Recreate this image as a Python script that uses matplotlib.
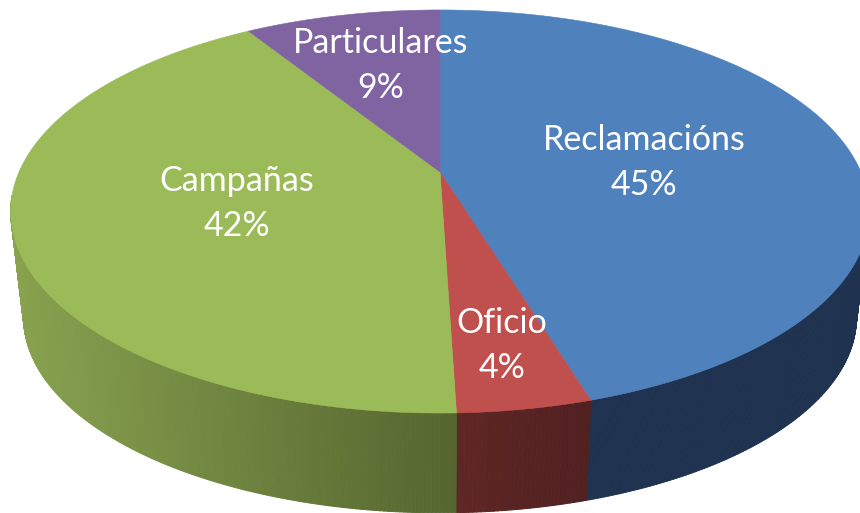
import numpy as np
import matplotlib
matplotlib.use("Agg")
import matplotlib.pyplot as plt
from matplotlib.collections import PolyCollection
from matplotlib.colors import to_rgb

categories = ["Reclamacións", "Oficio", "Campañas", "Particulares"]
shares = [45.3, 4.2, 41.6, 8.9]
top_colors = ["#4f81bd", "#c0504d", "#9bbb59", "#8064a2"]
side_left = ["#1f3350", "#5e2725", "#88a24f", "#4c3c61"]
side_right = ["#1f3350", "#512020", "#55652f", "#4c3c61"]
label_xy = [(644, 140), (502, 323), (237, 181), (381, 43)]

# projected disc geometry, in pixels
CX, CY = 440.0, 172.0
AX_TOP, AY_TOP, KP = 421.0, 193.8, 0.196
BASE_SCALE, BASE_CY = 0.97, 279.0

plt.rcParams["font.family"] = ["Lato", "DejaVu Sans"]
fig = plt.figure(figsize=(8.6, 5.13), dpi=100, facecolor="white")
ax = fig.add_axes([0, 0, 1, 1])
ax.set_xlim(0, 860)
ax.set_ylim(513, 0)
ax.axis("off")


def project(t, cy=CY, s=1.0):
    u, v = np.sin(t), np.cos(t)
    d = 1 + KP * v
    return CX + s * AX_TOP * u / d, cy - s * AY_TOP * v / d


edges = np.deg2rad(np.concatenate([[0], np.cumsum(shares)]) * 3.6)

# side walls (front part only), then top faces
for i in range(len(shares)):
    t = np.linspace(edges[i], edges[i + 1], max(8, int(shares[i] * 8)))
    x0, y0 = project(t)
    x1, y1 = project(t, BASE_CY, BASE_SCALE)
    polys, cols = [], []
    xa, xb = x0.min(), x0.max()
    c0, c1 = np.array(to_rgb(side_left[i])), np.array(to_rgb(side_right[i]))
    for j in range(len(t) - 1):
        if np.cos(t[j]) > -0.12:
            continue
        polys.append([(x0[j], y0[j]), (x0[j + 1], y0[j + 1]),
                      (x1[j + 1], y1[j + 1]), (x1[j], y1[j])])
        f = ((x0[j] + x0[j + 1]) / 2 - xa) / (xb - xa)
        cols.append(c0 + (c1 - c0) * f)
    if polys:
        ax.add_collection(PolyCollection(polys, facecolors=cols, edgecolors=cols,
                                         linewidths=0.7, zorder=2))

for i in range(len(shares)):
    t = np.linspace(edges[i], edges[i + 1], 200)
    x0, y0 = project(t)
    ax.fill(np.r_[CX, x0], np.r_[CY, y0], facecolor=top_colors[i],
            edgecolor=top_colors[i], lw=0.4, zorder=3)

for name, val, (x, y) in zip(categories, shares, label_xy):
    ax.text(x, y, name, color="white", fontsize=24.5, ha="center", va="center", zorder=4)
    ax.text(x, y + 45, f"{val:.0f}%", color="white", fontsize=24.5, ha="center", va="center", zorder=4)

fig.savefig("out.png", dpi=100)
